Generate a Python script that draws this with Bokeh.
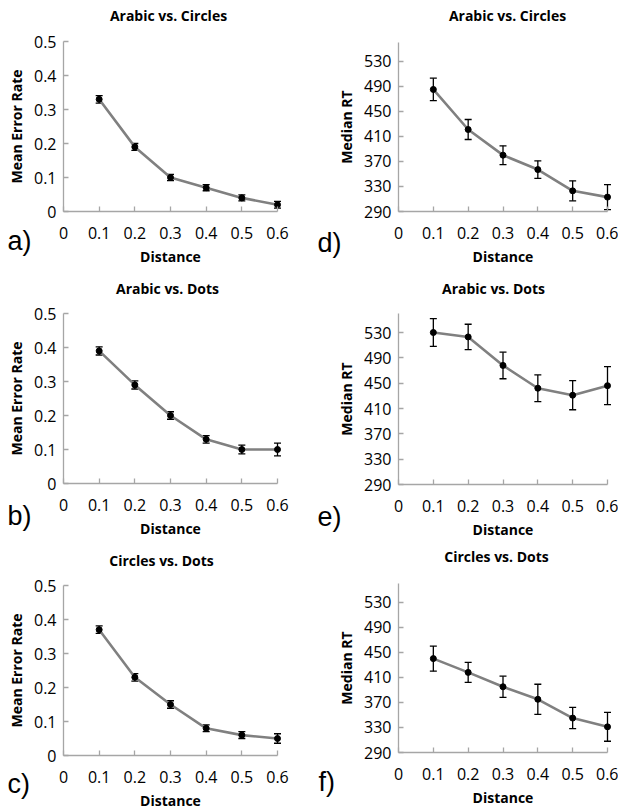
from bokeh.plotting import figure
from bokeh.layouts import gridplot
from bokeh.models import Label, Whisker, ColumnDataSource, FixedTicker, TeeHead, Range1d
from bokeh.embed import file_html
from bokeh.resources import INLINE

# ---------------- data ----------------
distance = [0.1, 0.2, 0.3, 0.4, 0.5, 0.6]
x_ticks = [0, 0.1, 0.2, 0.3, 0.4, 0.5, 0.6]
err_ticks = [0, 0.1, 0.2, 0.3, 0.4, 0.5]
rt_ticks = [290, 330, 370, 410, 450, 490, 530]

err_arabic_circles = [0.33, 0.19, 0.10, 0.07, 0.04, 0.02]
err_arabic_circles_se = [0.011, 0.010, 0.009, 0.009, 0.009, 0.010]
err_arabic_dots = [0.39, 0.29, 0.20, 0.13, 0.10, 0.10]
err_arabic_dots_se = [0.012, 0.012, 0.011, 0.011, 0.013, 0.019]
err_circles_dots = [0.37, 0.23, 0.15, 0.08, 0.06, 0.05]
err_circles_dots_se = [0.011, 0.011, 0.011, 0.010, 0.010, 0.014]

rt_arabic_circles = [485, 421, 380, 357, 323, 313]
rt_arabic_circles_se = [18, 16, 15, 14, 16, 20]
rt_arabic_dots = [530, 523, 478, 442, 431, 446]
rt_arabic_dots_se = [22, 20, 21, 21, 23, 30]
rt_circles_dots = [440, 418, 395, 375, 345, 331]
rt_circles_dots_se = [20, 16, 17, 24, 17, 23]

FONT = "Open Sans"
AXIS_COLOR = "#a6a6a6"
LINE_COLOR = "#808080"


def panel(title, letter, ylabel, y, se, ymin, ymax, yticks, overrides,
          box, axis_px, title_px, letter_px):
    # box: (left, top, width, height) of this cell on the page
    # axis_px: page pixels of (x=0, x=0.6, y=ymin, y=ymax)
    bx, by, bw, bh = box
    px0, px1, py0, py1 = axis_px

    def xd(px):
        return (px - px0) / (px1 - px0) * 0.6

    def yd(py):
        return ymin + (py0 - py) / (py0 - py1) * (ymax - ymin)

    p = figure(width=bw, height=bh, output_backend="svg", toolbar_location=None,
               title=None,
               x_range=Range1d(xd(bx), xd(bx + bw)),
               y_range=Range1d(yd(by + bh), yd(by)),
               min_border=0)
    p.outline_line_color = None
    p.grid.visible = False
    p.background_fill_color = "white"
    p.border_fill_color = "white"

    for ax in (p.xaxis, p.yaxis):
        ax.axis_line_color = AXIS_COLOR
        ax.axis_line_width = 1.3
        ax.major_tick_line_color = AXIS_COLOR
        ax.major_tick_line_width = 1.3
        ax.major_tick_in = 5
        ax.major_tick_out = 0
        ax.minor_tick_line_color = None
        ax.major_label_text_font = FONT
        ax.major_label_text_font_size = "16px"
        ax.major_label_text_color = "black"
        ax.axis_label_text_font = FONT
        ax.axis_label_text_font_size = "14px"
        ax.axis_label_text_font_style = "bold"
        ax.axis_label_text_color = "black"

    p.xaxis.fixed_location = ymin
    p.xaxis.ticker = FixedTicker(ticks=x_ticks)
    p.xaxis.bounds = (0, 0.6)
    p.xaxis.major_label_overrides = {0: "0"}
    p.xaxis.axis_label = "Distance"
    p.xaxis.major_label_standoff = 15
    p.xaxis.axis_label_standoff = 5

    p.yaxis.fixed_location = 0
    p.yaxis.ticker = FixedTicker(ticks=yticks)
    p.yaxis.bounds = (ymin, ymax)
    p.yaxis.major_label_overrides = overrides
    p.yaxis.axis_label = ylabel
    p.yaxis.major_label_standoff = 7
    p.yaxis.axis_label_standoff = 5

    lower = [v - s for v, s in zip(y, se)]
    upper = [v + s for v, s in zip(y, se)]
    src = ColumnDataSource(data=dict(x=distance, y=y, lower=lower, upper=upper))

    p.line("x", "y", source=src, line_color=LINE_COLOR, line_width=2.6)
    p.add_layout(Whisker(source=src, base="x", lower="lower", upper="upper",
                         line_color="black", line_width=1.3,
                         upper_head=TeeHead(size=7, line_color="black", line_width=1.3),
                         lower_head=TeeHead(size=7, line_color="black", line_width=1.3)))
    p.scatter("x", "y", source=src, size=6, color="black")

    p.add_layout(Label(x=xd(title_px[0]), y=yd(title_px[1]), text=title,
                       text_align="center", text_baseline="middle",
                       text_font=FONT, text_font_size="14px",
                       text_font_style="bold", text_color="black"))
    p.add_layout(Label(x=xd(letter_px[0]), y=yd(letter_px[1]), text=letter,
                       text_align="left", text_baseline="middle",
                       text_font="Liberation Sans", text_font_size="27px",
                       text_color="black"))
    return p


ERR = "Mean Error Rate"
RT = "Median RT"
ov_err = {0: "0"}
ov_rt = {}

a = panel("Arabic vs. Circles", "a)", ERR, err_arabic_circles, err_arabic_circles_se,
          0, 0.5, err_ticks, ov_err, (0, 0, 310, 270), (63, 277, 211, 41), (168, 15), (7, 240))
d = panel("Arabic vs. Circles", "d)", RT, rt_arabic_circles, rt_arabic_circles_se,
          290, 560, rt_ticks, ov_rt, (310, 0, 308, 270), (398, 607, 211, 42), (507, 15), (317, 242))
b = panel("Arabic vs. Dots", "b)", ERR, err_arabic_dots, err_arabic_dots_se,
          0, 0.5, err_ticks, ov_err, (0, 270, 310, 270), (63, 277, 483, 313), (167, 288), (7, 515))
e = panel("Arabic vs. Dots", "e)", RT, rt_arabic_dots, rt_arabic_dots_se,
          290, 560, rt_ticks, ov_rt, (310, 270, 308, 270), (398, 607, 484, 313), (493, 288), (317, 516))
c = panel("Circles vs. Dots", "c)", ERR, err_circles_dots, err_circles_dots_se,
          0, 0.5, err_ticks, ov_err, (0, 540, 310, 270), (63, 277, 755, 585), (161, 560), (7, 783))
f = panel("Circles vs. Dots", "f)", RT, rt_circles_dots, rt_circles_dots_se,
          290, 560, rt_ticks, ov_rt, (310, 540, 308, 270), (398, 607, 752, 583), (496, 556), (318, 781))

grid = gridplot([[a, d], [b, e], [c, f]], toolbar_location=None)

open("out.html", "w").write(file_html(grid, INLINE))
